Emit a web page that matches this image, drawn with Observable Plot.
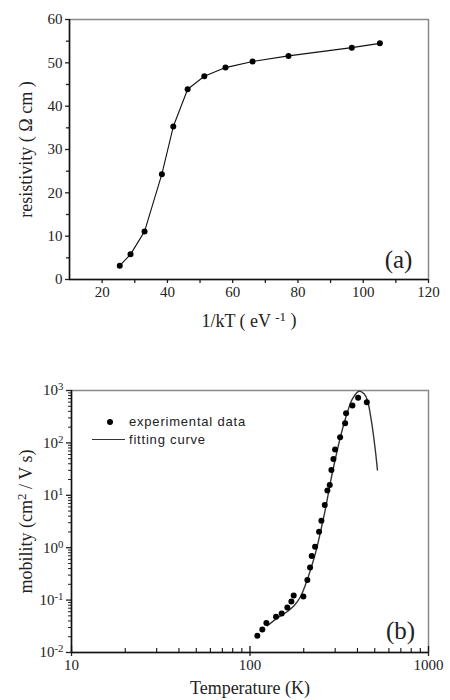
<!DOCTYPE html>
<html><head><meta charset="utf-8">
<script src="https://cdn.jsdelivr.net/npm/d3@7"></script>
<script src="https://cdn.jsdelivr.net/npm/@observablehq/plot@0.6"></script>
<style>
html,body{margin:0;padding:0;background:#fff}
#wrap{position:relative;width:450px;height:700px;overflow:hidden}
#wrap svg{display:block}
svg g[aria-label$="axis label"]{font-size:18px}
.lg{position:absolute;font-family:"Liberation Sans",Arial,sans-serif;font-size:13px;letter-spacing:0.8px;color:#222;line-height:16px;white-space:nowrap}
</style></head><body><div id="wrap"></div>
<script>
// Panel (a): resistivity vs 1/kT
const invKT = [25.4, 28.7, 33.0, 38.3, 41.8, 46.2, 51.3, 57.8, 66.1, 77.1, 96.5, 105.1];
const resistivity = [3.2, 5.8, 11.1, 24.3, 35.3, 43.9, 46.9, 48.9, 50.3, 51.6, 53.5, 54.5];
const xTicksA = [20, 40, 60, 80, 100, 120];
const xMinorA = [30, 50, 70, 90, 110];
const yTicksA = [0, 10, 20, 30, 40, 50, 60];
const yMinorA = [5, 15, 25, 35, 45, 55];

// Panel (b): mobility vs temperature (log-log)
const tempExp = [109.9, 117.2, 123.5, 139.9, 150.5, 161.9, 170.5, 175.7, 199.1, 209.6, 217.0, 221.7, 231.5, 243.8, 251.2, 262.2, 271.4, 279.8, 285.8, 293.3, 299.7, 319.7, 341.0, 345.4, 374.8, 403.3, 451.1];
const mobilityExp = [0.0208, 0.0275, 0.0364, 0.0481, 0.0556, 0.0724, 0.0944, 0.123, 0.117, 0.241, 0.421, 0.693, 1.045, 2.02, 3.28, 6.54, 12.3, 15.8, 30.5, 49.4, 74.6, 128, 238, 369, 516, 724, 598];
const tempFit = [125.1, 142.3, 161.9, 176.5, 190.7, 205.2, 218.9, 233.4, 249.1, 265.7, 283.4, 302.2, 322.4, 351.4, 374.8, 408, 435.8, 455, 475, 496, 517.6];
const mobilityFit = [0.0324, 0.0453, 0.0607, 0.078, 0.112, 0.202, 0.391, 0.815, 2.11, 5.9, 19.1, 53.2, 138, 385, 693, 970, 863, 644, 309, 111, 30.5];
const xTicksB = [10, 100, 1000];
const xMinorB = [20, 30, 40, 50, 60, 70, 80, 90, 200, 300, 400, 500, 600, 700, 800, 900];
const yTicksB = [0.01, 0.1, 1, 10, 100, 1000];
const yMinorB = [];
for (const d of [0.01, 0.1, 1, 10, 100]) for (const m of [2,3,4,5,6,7,8,9]) yMinorB.push(d * m);

const serif = '"Liberation Serif","Times New Roman",serif';
const ink = "#222";

const dataA = invKT.map((x, i) => ({x, y: resistivity[i]}));
const dataB = tempExp.map((x, i) => ({x, y: mobilityExp[i]}));
const fitB = tempFit.map((x, i) => ({x, y: mobilityFit[i]}));

function superscripts(svg) {
  svg.querySelectorAll("text").forEach(t => {
    const txt = t.textContent;
    const m = txt.match(/^(.*)\^\{(.*?)\}(.*)$/);
    if (!m) return;
    const ns = "http://www.w3.org/2000/svg";
    while (t.firstChild) t.removeChild(t.firstChild);
    const a = document.createElementNS(ns, "tspan"); a.textContent = m[1];
    const b = document.createElementNS(ns, "tspan"); b.textContent = m[2];
    b.setAttribute("dy", "-0.45em"); b.setAttribute("font-size", "0.72em");
    t.appendChild(a); t.appendChild(b);
    if (m[3]) {
      const c = document.createElementNS(ns, "tspan"); c.textContent = m[3];
      c.setAttribute("dy", "0.32em");
      t.appendChild(c);
    }
  });
}

const plotA = Plot.plot({
  width: 450, height: 340,
  marginTop: 19, marginLeft: 69, marginRight: 22, marginBottom: 61,
  style: {fontFamily: serif, fontSize: "15px", color: ink, background: "#fff"},
  x: {domain: [10, 120]},
  y: {domain: [0, 60]},
  marks: [
    Plot.frame({stroke: "#888", strokeWidth: 1.5}),
    Plot.axisX({ticks: xTicksA, tickSize: 4, tickPadding: 3, label: "1/kT ( eV ^{-1} )", labelAnchor: "center", labelOffset: 47, labelArrow: "none", strokeWidth: 1.3}),
    Plot.axisX({ticks: xMinorA, tickSize: 4, tickFormat: () => "", label: null, strokeWidth: 1.3}),
    Plot.axisY({ticks: yTicksA, tickSize: 4, tickPadding: 3, label: "resistivity ( Ω cm )", labelAnchor: "center", labelOffset: 50, labelArrow: "none", strokeWidth: 1.3}),
    Plot.axisY({ticks: yMinorA, tickSize: 3, tickFormat: () => "", label: null, strokeWidth: 1.3}),
    Plot.ruleY([0], {stroke: "#111", strokeWidth: 1.5}),
    Plot.ruleX([10], {stroke: "#111", strokeWidth: 1.5}),
    Plot.line(dataA, {x: "x", y: "y", stroke: "#111", strokeWidth: 1.1}),
    Plot.dot(dataA, {x: "x", y: "y", r: 3, fill: "#000"}),
    Plot.text(["(a)"], {frameAnchor: "bottom-right", dx: -30, dy: -20, fontSize: 25, fill: ink, textAnchor: "middle", lineAnchor: "middle"})
  ]
});

const innerHB = 360 - 50 - 48;
const plotB = Plot.plot({
  width: 450, height: 360,
  marginTop: 50, marginLeft: 71, marginRight: 22, marginBottom: 48,
  style: {fontFamily: serif, fontSize: "15px", color: ink, background: "#fff"},
  x: {type: "log", domain: [10, 1000]},
  y: {type: "log", domain: [0.01, 1000]},
  marks: [
    Plot.frame({stroke: "#888", strokeWidth: 1.5}),
    Plot.axisX({ticks: xTicksB, tickSize: 4, tickPadding: 3, tickFormat: d3.format("d"), label: "Temperature (K)", labelAnchor: "center", labelOffset: 41, labelArrow: "none", strokeWidth: 1.3}),
    Plot.tickX(xTicksB, {x: d => d, insetTop: innerHB - 6, stroke: "#111", strokeWidth: 1.3}),
    Plot.tickX(xMinorB, {x: d => d, insetTop: innerHB - 4, stroke: "#111", strokeWidth: 1.1}),
    Plot.axisY({ticks: yTicksB, tickSize: 5, tickPadding: 3, tickFormat: d => "10^{" + Math.round(Math.log10(d)) + "}", label: "mobility (cm^{2} / V s)", labelAnchor: "center", labelOffset: 52, labelArrow: "none", strokeWidth: 1.3}),
    Plot.axisY({ticks: yMinorB, tickSize: 3, tickFormat: () => "", label: null, strokeWidth: 1}),
    Plot.ruleY([0.01], {stroke: "#111", strokeWidth: 1.5}),
    Plot.ruleX([10], {stroke: "#111", strokeWidth: 1.5}),
    Plot.line(fitB, {x: "x", y: "y", stroke: "#333", strokeWidth: 1.4, curve: "catmull-rom"}),
    Plot.dot(dataB, {x: "x", y: "y", r: 3, fill: "#000"}),
    Plot.text(["(b)"], {frameAnchor: "bottom-right", dx: -28, dy: -22, fontSize: 25, fill: ink, textAnchor: "middle", lineAnchor: "middle"})
  ]
});

superscripts(plotA);
superscripts(plotB);

const wrap = document.getElementById("wrap");
wrap.appendChild(plotA);
wrap.appendChild(plotB);

// legend for panel (b)
const legendItems = [
  {label: "experimental data", kind: "dot"},
  {label: "fitting curve", kind: "line"}
];
legendItems.forEach((it, i) => {
  const top = 414 + i * 18;
  if (it.kind === "dot") {
    const d = document.createElement("div");
    d.style.cssText = `position:absolute;left:107px;top:${top + 5}px;width:6px;height:6px;border-radius:50%;background:#000`;
    wrap.appendChild(d);
  } else {
    const d = document.createElement("div");
    d.style.cssText = `position:absolute;left:92px;top:${top + 7}px;width:33px;height:1.4px;background:#333`;
    wrap.appendChild(d);
  }
  const s = document.createElement("div");
  s.className = "lg";
  s.style.left = "129px";
  s.style.top = top + "px";
  s.textContent = it.label;
  wrap.appendChild(s);
});
</script>
</body></html>
